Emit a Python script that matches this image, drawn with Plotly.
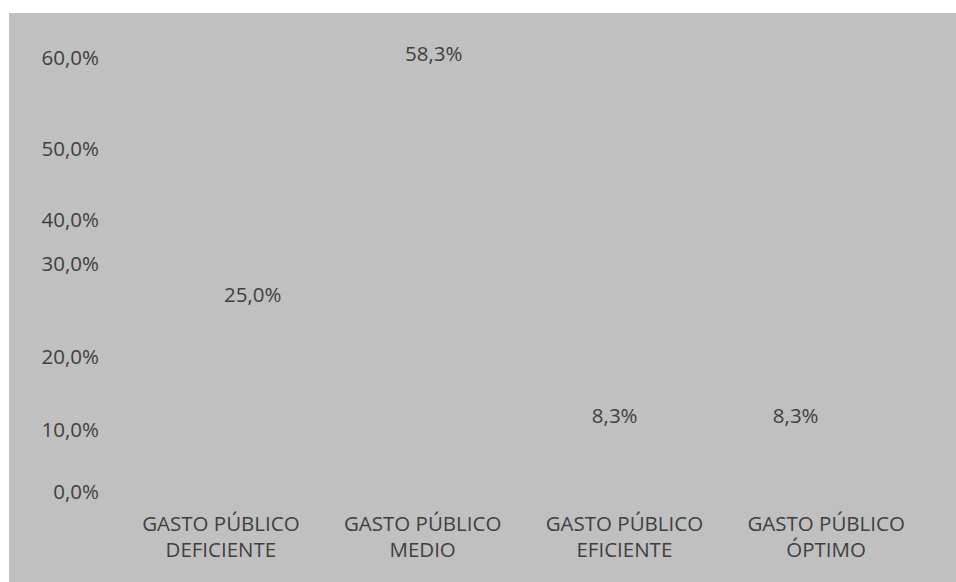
import plotly.graph_objects as go

categories = ["GASTO PÚBLICO<br>DEFICIENTE", "GASTO PÚBLICO<br>MEDIO",
              "GASTO PÚBLICO<br>EFICIENTE", "GASTO PÚBLICO<br>ÓPTIMO"]
values = [25.0, 58.3, 8.3, 8.3]
value_labels = ["25,0%", "58,3%", "8,3%", "8,3%"]

# y tick labels and where they appear on the (linear) value axis in the picture
tick_labels = ["0,0%", "10,0%", "20,0%", "30,0%", "40,0%", "50,0%", "60,0%"]
tick_positions = [0, 8.6, 18.7, 31.5, 37.7, 47.4, 60.0]

BG = "#c0c0c0"
TXT = "#404040"
FONT = "Open Sans, Noto Sans, sans-serif"
FS = 20.5

W, H = 956, 582
ML, MR, MT, MB = 120, 29, 44, 90
PW, PH = W - ML - MR, H - MT - MB

fig = go.Figure()
# category axis carrying the tick labels (invisible bars)
fig.add_trace(go.Bar(
    x=categories, y=values, xaxis="x", yaxis="y",
    marker=dict(color="rgba(0,0,0,0)", line=dict(width=0)),
    hoverinfo="skip", showlegend=False,
))
# value labels, drawn on a second category axis as in the original
fig.add_trace(go.Bar(
    x=categories, y=values, xaxis="x2", yaxis="y",
    text=value_labels, textposition="outside", cliponaxis=False,
    marker=dict(color="rgba(0,0,0,0)", line=dict(width=0)),
    textfont=dict(family=FONT, size=FS, color=TXT),
    showlegend=False,
))

fig.update_layout(
    width=W,
    height=H,
    paper_bgcolor=BG,
    plot_bgcolor=BG,
    margin=dict(l=ML, r=MR, t=MT, b=MB),
    showlegend=False,
    font=dict(family=FONT, size=FS, color=TXT),
    xaxis=dict(
        domain=[0, 1], anchor="y",
        showgrid=False, zeroline=False, showline=False, ticks="",
        tickfont=dict(family=FONT, size=FS, color=TXT),
        ticklabelstandoff=17,
    ),
    xaxis2=dict(
        domain=[(162.2 - ML) / PW, (886.2 - ML) / PW], anchor="y",
        showgrid=False, zeroline=False, showline=False, ticks="",
        showticklabels=False,
    ),
    yaxis=dict(
        range=[0, 61.94], anchor="x",
        tickvals=tick_positions, ticktext=tick_labels,
        showgrid=False, zeroline=False, showline=False, ticks="",
        tickfont=dict(family=FONT, size=FS, color=TXT),
        ticklabelstandoff=20,
    ),
    shapes=[
        dict(type="rect", xref="paper", yref="paper",
             x0=-ML / PW - 0.05, x1=1 + MR / PW + 0.05,
             y0=1 + (MT - 13) / PH, y1=1 + MT / PH + 0.05,
             fillcolor="white", line=dict(width=0), layer="below"),
        dict(type="rect", xref="paper", yref="paper",
             x0=-ML / PW - 0.05, x1=-(ML - 9) / PW,
             y0=-MB / PH - 0.05, y1=1 + MT / PH + 0.05,
             fillcolor="white", line=dict(width=0), layer="below"),
    ],
)

fig.write_html(
    "out.html",
    config={"displayModeBar": False},
    post_script="document.body.style.margin='0';document.body.style.overflow='hidden';",
)
